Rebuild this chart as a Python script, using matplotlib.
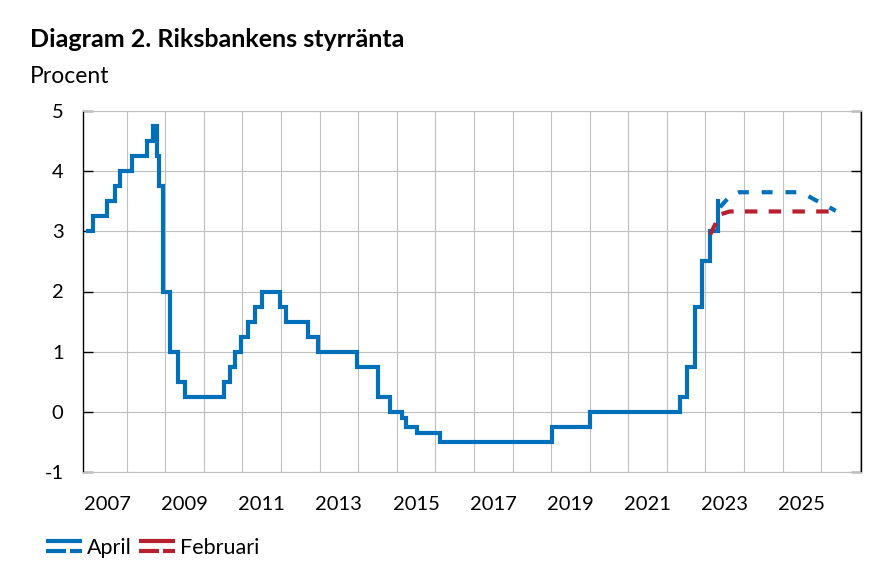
import pandas as pd
import matplotlib.pyplot as plt
from matplotlib.lines import Line2D
from matplotlib.ticker import FixedLocator, NullFormatter

plt.rcParams["font.family"] = ["Lato", "DejaVu Sans"]
plt.rcParams["axes.unicode_minus"] = False

BLUE = "#0070BA"
RED = "#B7202E"
GRID = "#BFBFBF"

# Riksbankens styrränta (reporänta), datum då ändringen trädde i kraft
rate_dates = [
    "2007-01-01", "2007-02-21", "2007-06-27", "2007-09-12", "2007-10-31",
    "2008-02-20", "2008-07-09", "2008-09-10", "2008-10-15", "2008-10-29",
    "2008-12-10", "2009-02-18", "2009-04-29", "2009-07-08", "2010-07-07",
    "2010-09-08", "2010-10-27", "2010-12-22", "2011-02-22", "2011-04-27",
    "2011-07-06", "2011-12-21", "2012-02-22", "2012-09-12", "2012-12-19",
    "2013-12-18", "2014-07-09", "2014-10-29", "2015-02-18", "2015-03-25",
    "2015-07-08", "2016-02-17", "2019-01-09", "2020-01-08", "2022-05-04",
    "2022-07-06", "2022-09-21", "2022-11-30", "2023-02-15", "2023-04-26",
]
rate_values = [
    3.00, 3.25, 3.50, 3.75, 4.00,
    4.25, 4.50, 4.75, 4.25, 3.75,
    2.00, 1.00, 0.50, 0.25, 0.50,
    0.75, 1.00, 1.25, 1.50, 1.75,
    2.00, 1.75, 1.50, 1.25, 1.00,
    0.75, 0.25, 0.00, -0.10, -0.25,
    -0.35, -0.50, -0.25, 0.00, 0.25,
    0.75, 1.75, 2.50, 3.00, 3.50,
]

# Prognoser, kvartalsmedel
april_quarters = [
    "2023Q2", "2023Q3", "2023Q4", "2024Q1", "2024Q2", "2024Q3", "2024Q4",
    "2025Q1", "2025Q2", "2025Q3", "2025Q4", "2026Q1", "2026Q2",
]
april_values = [3.40, 3.58, 3.65, 3.65, 3.65, 3.65, 3.65,
                3.65, 3.65, 3.60, 3.51, 3.43, 3.34]

feb_quarters = [
    "2023Q1", "2023Q2", "2023Q3", "2023Q4", "2024Q1", "2024Q2", "2024Q3",
    "2024Q4", "2025Q1", "2025Q2", "2025Q3", "2025Q4", "2026Q1", "2026Q2",
]
feb_values = [2.95, 3.28, 3.33, 3.33, 3.33, 3.33, 3.33,
              3.33, 3.33, 3.33, 3.33, 3.33, 3.33, 3.33]

year_labels = ["2007", "2009", "2011", "2013", "2015", "2017",
               "2019", "2021", "2023", "2025"]


def to_year(dates):
    d = pd.to_datetime(pd.Series(dates))
    return (d.dt.year + (d.dt.dayofyear - 1) / 365.0).to_numpy()


def quarter_mid(quarters):
    return [int(q[:4]) + (int(q[-1]) - 0.5) / 4 for q in quarters]


fig = plt.figure(figsize=(8.95, 5.8), dpi=100)
ax = fig.add_axes([83 / 895, 1 - 472 / 580, (861 - 83) / 895, (472 - 111) / 580])

ax.step(to_year(rate_dates), rate_values, where="post", color=BLUE,
        lw=3.0, solid_joinstyle="miter", zorder=3)
ax.plot(quarter_mid(feb_quarters), feb_values, color=RED, lw=3.0,
        dashes=(3.0, 2.7), dash_capstyle="butt", zorder=4)
ax.plot(quarter_mid(april_quarters), april_values, color=BLUE, lw=3.0,
        dashes=(2.6, 3.1), dash_capstyle="butt", zorder=5)

ax.set_xlim(2006.87, 2027.03)
ax.set_ylim(-1, 5)

# årtal mitt i året, rutnät vid årsskiften
ax.xaxis.set_major_locator(FixedLocator([int(y) + 0.5 for y in year_labels]))
ax.set_xticklabels(year_labels)
ax.xaxis.set_minor_locator(FixedLocator(range(2008, 2028)))
ax.xaxis.set_minor_formatter(NullFormatter())
ax.tick_params(axis="x", which="both", length=0, pad=17, labelsize=14.5)
ax.grid(axis="x", which="minor", color=GRID, lw=0.8)

ax.set_yticks(range(-1, 6))
ax.tick_params(axis="y", direction="in", length=7, width=1, right=True,
               pad=14, labelsize=14.5)
ax.grid(axis="y", which="major", color=GRID, lw=0.8)
ax.set_axisbelow(True)

for side in ["left", "right"]:
    ax.spines[side].set_color("black")
    ax.spines[side].set_linewidth(1.0)
for side in ["top", "bottom"]:
    ax.spines[side].set_color(GRID)
    ax.spines[side].set_linewidth(0.8)

fig.text(30 / 895, 1 - 47 / 580, "Diagram 2. Riksbankens styrränta",
         fontsize=18, fontweight="bold", va="baseline")
fig.text(30 / 895, 1 - 83 / 580, "Procent", fontsize=16.5, va="baseline")

# förklaring: heldragen linje över streckad
for x0, color, label in [(46, BLUE, "April"), (139, RED, "Februari")]:
    fig.add_artist(Line2D([x0 / 895, (x0 + 36) / 895], [1 - 541 / 580] * 2,
                          color=color, lw=3.0, solid_capstyle="butt"))
    fig.add_artist(Line2D([x0 / 895, (x0 + 20) / 895], [1 - 551 / 580] * 2,
                          color=color, lw=3.0, solid_capstyle="butt"))
    fig.add_artist(Line2D([(x0 + 24) / 895, (x0 + 36) / 895], [1 - 551 / 580] * 2,
                          color=color, lw=3.0, solid_capstyle="butt"))
    fig.text((x0 + 41) / 895, 1 - 554 / 580, label, fontsize=15.5, va="baseline")

fig.savefig("out.png", dpi=100)
